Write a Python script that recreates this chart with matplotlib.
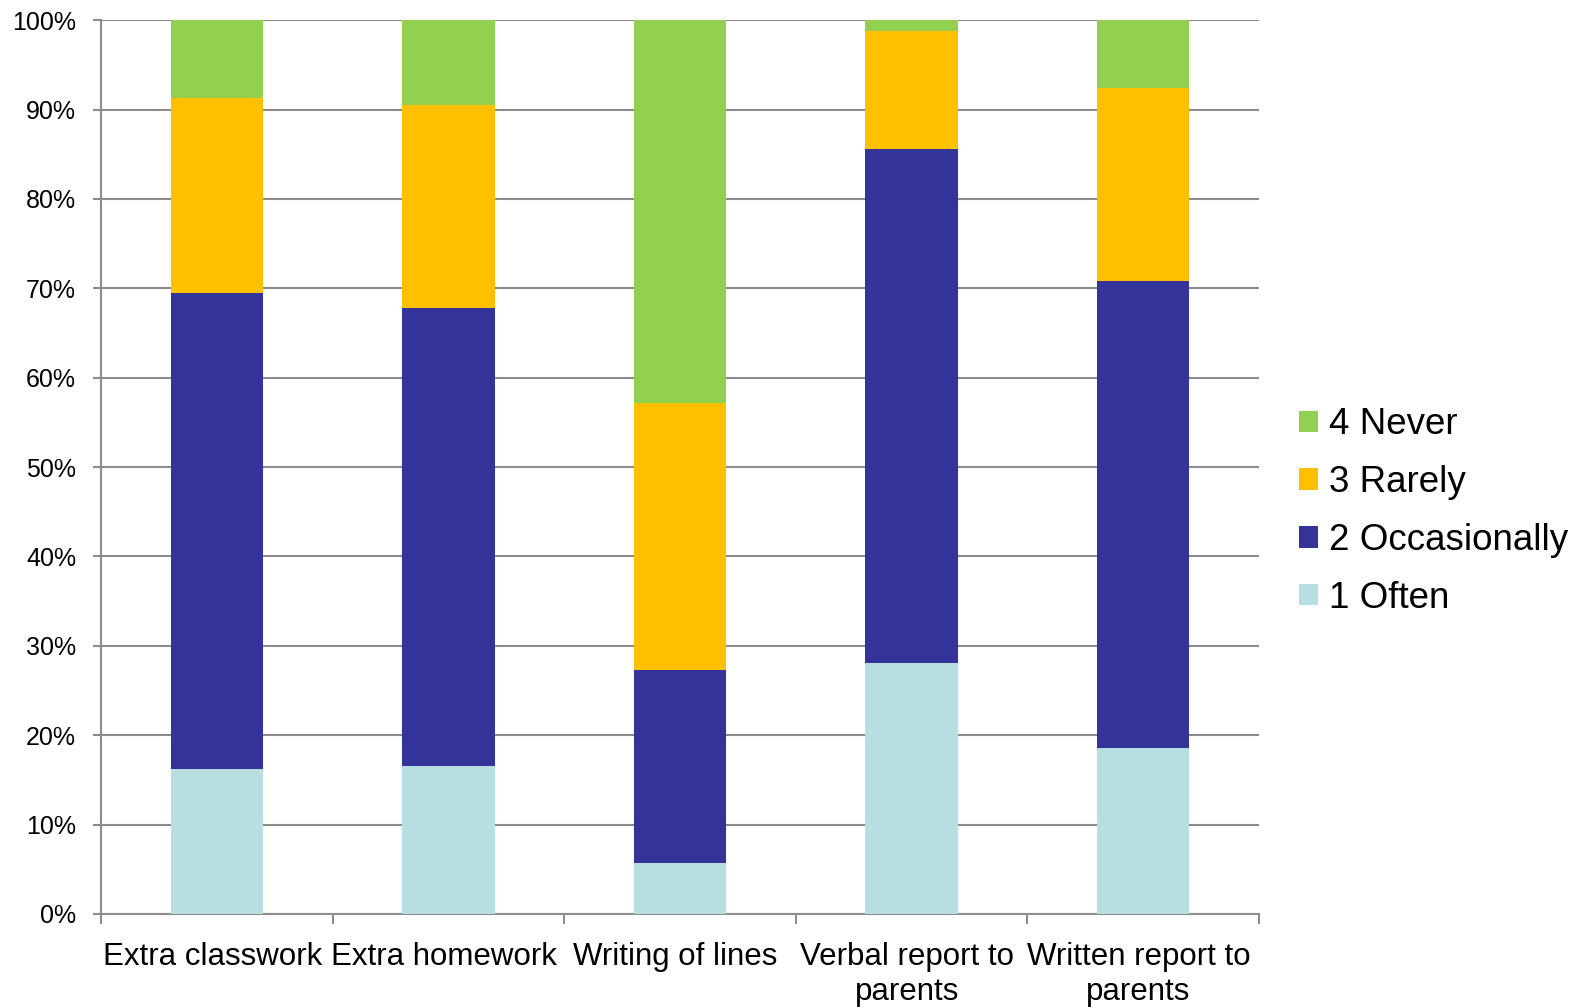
import matplotlib.pyplot as plt
import numpy as np

plt.rcParams['font.family'] = ['Liberation Sans', 'DejaVu Sans']

categories = ['Extra classwork', 'Extra homework', 'Writing of lines',
              'Verbal report to\nparents', 'Written report to\nparents']

# share of answers per category (%), bottom to top
often = [16.2, 16.6, 5.7, 28.1, 18.6]
occasionally = [53.3, 51.2, 21.6, 57.5, 52.2]
rarely = [21.8, 22.7, 29.9, 13.2, 21.6]
never = [8.7, 9.5, 42.8, 1.2, 7.6]

series = [('1 Often', often, '#B7DFE2'),
          ('2 Occasionally', occasionally, '#333399'),
          ('3 Rarely', rarely, '#FFC000'),
          ('4 Never', never, '#92D050')]

fig = plt.figure(figsize=(15.89, 10.07), dpi=100)
ax = fig.add_axes([0.0636, 0.0924, 0.7287, 0.8876])

x = np.arange(len(categories))
bottom = np.zeros(len(categories))
for name, vals, col in series:
    ax.bar(x, vals, 0.4, bottom=bottom, color=col, label=name, zorder=3)
    bottom += np.array(vals)

grey = '#8C8C8C'
ax.set_xlim(-0.5, len(categories) - 0.5)
ax.set_ylim(0, 100)
ax.set_yticks(np.arange(0, 101, 10))
ax.set_yticklabels([f'{v}%' for v in range(0, 101, 10)])
ax.yaxis.grid(True, color=grey, linewidth=1.5, zorder=0)

# category boundaries get the tick marks, labels sit at the centres
ax.set_xticks(np.arange(-0.5, len(categories)))
ax.set_xticklabels([])
ax.set_xticks(x - 0.02, minor=True)
ax.set_xticklabels(categories, minor=True, fontsize=22.5, linespacing=1.25)
ax.tick_params(axis='x', which='major', length=7, width=1.5, color=grey, direction='out')
ax.tick_params(axis='x', which='minor', length=0, pad=20)
ax.tick_params(axis='y', length=6, width=1.5, color=grey, labelsize=18, pad=12)

for side in ['top', 'right']:
    ax.spines[side].set_visible(False)
for side in ['left', 'bottom']:
    ax.spines[side].set_color(grey)
    ax.spines[side].set_linewidth(1.5)

handles, labels = ax.get_legend_handles_labels()
fig.legend(handles[::-1], labels[::-1], loc='center left',
           bbox_to_anchor=(0.808, 0.492), frameon=False, fontsize=26.5,
           handlelength=0.52, handleheight=0.52, handletextpad=0.3,
           labelspacing=0.62, borderaxespad=0)

fig.savefig('out.png', dpi=100)
